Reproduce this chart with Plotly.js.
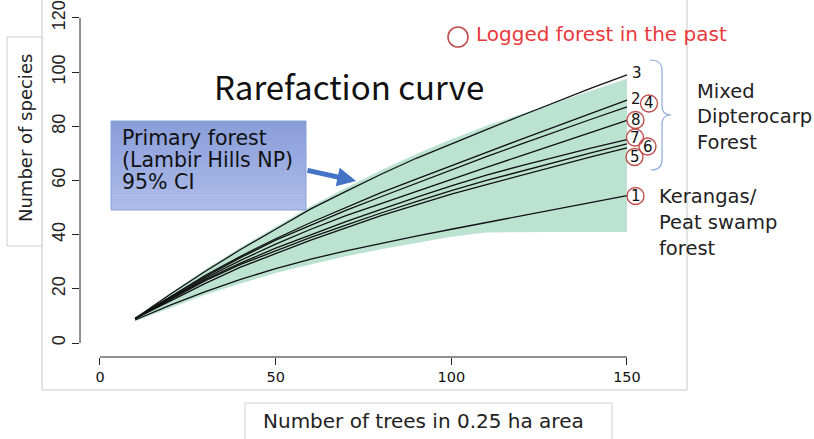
<!DOCTYPE html>
<html>
<head>
<meta charset="utf-8">
<script src="https://cdn.plot.ly/plotly-3.0.1.min.js"></script>
<style>html,body{margin:0;padding:0;background:#fff;}#chart{width:814px;height:439px;}</style>
</head>
<body>
<div id="chart"></div>
<script>
// ---- data ----
const trees = [10, 20, 30, 40, 50, 60, 70, 80, 90, 100, 110, 120, 130, 140, 150];
const ciUpper = [9.5, 18.5, 27.2, 35.3, 43, 50.5, 57.3, 63.8, 69.8, 75.2, 80.2, 84.5, 88.8, 93.2, 97.6];
const ciLower = [8, 13, 17.8, 22, 25.8, 29, 32, 34.6, 37, 39.2, 40.8, 41, 41, 41, 41];
const site3 = [9, 18, 26.5, 34.5, 42, 49.5, 56, 62.3, 68.2, 73.6, 78.8, 84, 89.2, 94.2, 99];
const site2 = [9, 17, 25, 32, 38.5, 44.5, 50, 55.5, 60.5, 65.5, 70.5, 75.3, 80.1, 84.9, 89.7];
const site4 = [9, 17, 24.5, 31.5, 38, 43.5, 49, 54, 59, 64, 68.8, 73.5, 78.2, 82.7, 87.2];
const site8 = [9, 16.5, 24, 30.5, 36.5, 42, 47, 51.5, 56, 60.5, 64.8, 69.2, 73.5, 77.8, 82.2];
const site7 = [9, 16.5, 23.5, 29.5, 35, 40, 44.8, 49.3, 53.8, 58, 62, 65.5, 68.8, 72, 75.1];
const site6 = [9, 16, 23, 29, 34, 39, 43.5, 48, 52.2, 56.3, 60, 63.5, 67, 70.3, 73.5];
const site5 = [9, 15.5, 22, 28, 33, 38, 42.5, 47, 51, 55, 58.5, 62, 65.5, 68.8, 72];
const site1 = [8.5, 14, 19, 23.5, 27.5, 31, 34, 36.8, 39.5, 42, 44.5, 46.9, 49.4, 51.9, 54.4];
const xTicks = [0, 50, 100, 150];
const yTicks = [0, 20, 40, 60, 80, 100, 120];

// ---- layout helpers (pixel -> paper) ----
const L = 80, T = 10, W = 570, H = 347;
const px = v => (v - L) / W;
const py = v => (T + H - v) / H;
const JP = '"Noto Sans CJK JP", "Noto Sans", sans-serif';
const WIDE = '"DejaVu Sans", sans-serif';
const circleColor = '#c0504d';

const curves = [site3, site2, site4, site8, site7, site6, site5, site1];

const traces = [
  {x: trees, y: ciLower, mode: 'lines', line: {width: 0, color: 'rgba(0,0,0,0)'}, hoverinfo: 'skip', showlegend: false},
  {x: trees, y: ciUpper, mode: 'lines', line: {width: 0, color: 'rgba(0,0,0,0)'}, fill: 'tonexty', fillcolor: 'rgb(188,226,210)', hoverinfo: 'skip', showlegend: false}
];
curves.forEach(c => traces.push({x: trees, y: c, mode: 'lines', line: {color: '#111', width: 1.3}, hoverinfo: 'skip', showlegend: false}));

const shapes = [
  // R-style detached axes
  {type: 'line', xref: 'paper', yref: 'y', x0: 0, x1: 0, y0: 0, y1: 120, line: {color: '#222', width: 1}},
  {type: 'line', xref: 'x', yref: 'paper', x0: 0, x1: 150, y0: 0, y1: 0, line: {color: '#222', width: 1}},
  // image frame
  {type: 'line', xref: 'paper', yref: 'paper', x0: px(42), x1: px(42), y0: py(0), y1: py(390), line: {color: '#c8c8c8', width: 1}},
  {type: 'line', xref: 'paper', yref: 'paper', x0: px(687), x1: px(687), y0: py(0), y1: py(390), line: {color: '#c8c8c8', width: 1}},
  {type: 'line', xref: 'paper', yref: 'paper', x0: px(42), x1: px(687), y0: py(390), y1: py(390), line: {color: '#c8c8c8', width: 1}},
  // axis title boxes
  {type: 'rect', xref: 'paper', yref: 'paper', x0: px(7), x1: px(42), y0: py(37), y1: py(246), line: {color: '#d0d0d0', width: 1}, fillcolor: '#fff'},
  {type: 'rect', xref: 'paper', yref: 'paper', x0: px(245), x1: px(612), y0: py(403), y1: py(450), line: {color: '#d0d0d0', width: 1}, fillcolor: '#fff'}
];

// blue box with a vertical gradient built from thin strips
const boxTop = 121, boxBot = 210, strips = 18;
for (let i = 0; i < strips; i++) {
  const f = i / (strips - 1);
  const r = Math.round(138 + (172 - 138) * f), g = Math.round(158 + (187 - 158) * f), b = Math.round(217 + (233 - 217) * f);
  const y0 = boxTop + (boxBot - boxTop) * i / strips, y1 = boxTop + (boxBot - boxTop) * (i + 1) / strips + 0.6;
  shapes.push({type: 'rect', xref: 'paper', yref: 'paper', x0: px(111), x1: px(306), y0: py(y0), y1: py(Math.min(y1, boxBot)), line: {width: 0}, fillcolor: `rgb(${r},${g},${b})`});
}
shapes.push({type: 'rect', xref: 'paper', yref: 'paper', x0: px(111), x1: px(306), y0: py(boxTop), y1: py(boxBot), line: {color: '#8ba0d6', width: 1}, fillcolor: 'rgba(0,0,0,0)'});

// legend circle and bracket
shapes.push({type: 'circle', xref: 'paper', yref: 'paper', x0: px(448), x1: px(468), y0: py(27), y1: py(47), line: {color: circleColor, width: 1.6}});
shapes.push({type: 'path', xref: 'paper', yref: 'paper', line: {color: '#8faadc', width: 1.2},
   path: `M ${px(650)},${py(60)} Q ${px(662)},${py(60)} ${px(662)},${py(70)} L ${px(662)},${py(106)} Q ${px(662)},${py(115)} ${px(671)},${py(115)} Q ${px(662)},${py(115)} ${px(662)},${py(124)} L ${px(662)},${py(160)} Q ${px(662)},${py(170)} ${px(651)},${py(170)}`});

const txt = (x, y, text, font, xanchor, extra) => Object.assign({xref: 'paper', yref: 'paper', x: px(x), y: py(y), text: text, showarrow: false, font: font, xanchor: xanchor || 'left', yanchor: 'middle'}, extra || {});

const annotations = [
  txt(349, 86, 'Rarefaction curve', {family: JP, size: 33, color: '#111'}, 'center'),
  txt(474, 34, 'Logged forest in the past', {family: WIDE, size: 20, color: '#e8393d'}),
  txt(120, 138, 'Primary forest', {family: WIDE, size: 20.5, color: '#111'}),
  txt(120, 160, '(Lambir Hills NP)', {family: WIDE, size: 20.5, color: '#111'}),
  txt(120, 182, '95% CI', {family: WIDE, size: 20.5, color: '#111'}),
  {xref: 'paper', yref: 'paper', x: px(356), y: py(181), ax: -50, ay: -11, text: '', showarrow: true, arrowhead: 2, arrowsize: 0.75, arrowwidth: 5, arrowcolor: '#4472c4', standoff: 0},
  txt(695, 91, 'Mixed', {family: WIDE, size: 19.5, color: '#222'}),
  txt(695, 116.5, 'Dipterocarp', {family: WIDE, size: 19.5, color: '#222'}),
  txt(695, 142, 'Forest', {family: WIDE, size: 19.5, color: '#222'}),
  txt(657, 196, 'Kerangas/', {family: WIDE, size: 19.5, color: '#222'}),
  txt(657, 222.5, 'Peat swamp', {family: WIDE, size: 19.5, color: '#222'}),
  txt(657, 248, 'forest', {family: WIDE, size: 19.5, color: '#222'}),
  txt(25, 138, 'Number of species', {family: WIDE, size: 18, color: '#222'}, 'center', {textangle: -90}),
  txt(423, 421, 'Number of trees in 0.25 ha area', {family: WIDE, size: 20, color: '#222'}, 'center')
];

// curve end labels
const endLabels = [
  {t: '3', x: 636.5, y: 73, c: false},
  {t: '2', x: 636, y: 98.5, c: false},
  {t: '4', x: 649, y: 103.5, c: true},
  {t: '8', x: 635.5, y: 120, c: true},
  {t: '7', x: 635, y: 137.5, c: true},
  {t: '6', x: 647.5, y: 146.5, c: true},
  {t: '5', x: 634.5, y: 157, c: true},
  {t: '1', x: 635.5, y: 196, c: true}
];
endLabels.forEach(e => {
  annotations.push(txt(e.x, e.y, e.t, {family: WIDE, size: 15, color: '#111'}, 'center'));
  if (e.c) shapes.push({type: 'circle', xref: 'paper', yref: 'paper', x0: px(e.x - 8.5), x1: px(e.x + 8.5), y0: py(e.y - 8.5), y1: py(e.y + 8.5), line: {color: circleColor, width: 1.4}});
});

const layout = {
  width: 814, height: 439,
  margin: {l: L, r: 814 - L - W, t: T, b: 439 - T - H},
  paper_bgcolor: '#fff', plot_bgcolor: 'rgba(0,0,0,0)',
  showlegend: false,
  xaxis: {range: [-5.69, 156.55], tickvals: xTicks, ticktext: xTicks.map(String), ticks: 'outside', ticklen: 7, tickcolor: '#222',
          showline: false, showgrid: false, zeroline: false, tickfont: {family: WIDE, size: 14.5, color: '#111'}, fixedrange: true},
  yaxis: {range: [-5.17, 122.95], tickvals: yTicks, ticktext: yTicks.map(String), ticks: 'outside', ticklen: 7, tickcolor: '#222', tickangle: -90,
          showline: false, showgrid: false, zeroline: false, tickfont: {family: '"Liberation Sans Narrow", "Liberation Sans", sans-serif', size: 18, color: '#222'}, fixedrange: true},
  shapes: shapes,
  annotations: annotations
};

Plotly.newPlot('chart', traces, layout, {displayModeBar: false, staticPlot: true});
</script>
</body>
</html>
